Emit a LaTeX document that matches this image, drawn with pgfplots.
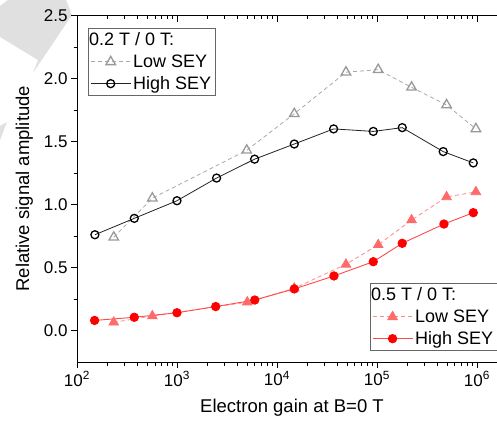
\documentclass[border=0pt]{standalone}
\usepackage{pgfplots}
\pgfplotsset{compat=1.18}
\usepackage{fontspec}
\setmainfont{Liberation Sans}
\definecolor{lowgrey}{HTML}{999999}
\definecolor{highblack}{HTML}{222222}
\definecolor{lowred}{HTML}{FF6A6A}
\definecolor{highred}{HTML}{FF0000}
\definecolor{highredline}{HTML}{FF4A4A}
\pgfplotsset{
  commonaxis/.style={
    at={(77pt,62pt)}, anchor=south west,
    width=430pt, height=346.5pt, scale only axis,
    xmin=100, xmax=2e6, ymin=-0.25, ymax=2.5,
    major tick length=6pt, minor tick length=3.5pt,
    every tick/.style={black, line width=0.6pt},
    axis line style={black, line width=0.8pt},
    tick label style={font=\fontsize{17}{20}\selectfont},
    label style={font=\fontsize{18.5}{21}\selectfont},
    legend cell align=left,
    legend image code/.code={\draw[mark repeat=2,mark phase=2,##1] plot coordinates {(0pt,0pt)(20pt,0pt)(40pt,0pt)};},
  },
}
\begin{document}
\begin{tikzpicture}
\fill[black!12] (8pt,424pt) -- (66pt,424pt) -- (72pt,409pt) -- (33pt,351pt) -- (38pt,364pt) -- (0pt,387pt) -- (0pt,418pt) -- cycle;
\fill[black!12] (0pt,298pt) -- (7pt,302pt) -- (0pt,284pt) -- cycle;
\begin{semilogxaxis}[commonaxis,
  xtick={1e2,1e3,1e4,1e5,1e6},
  xticklabels={10\textsuperscript{2},10\textsuperscript{3},10\textsuperscript{4},10\textsuperscript{5},10\textsuperscript{6}},
  ytick={0,0.5,1,1.5,2,2.5}, minor y tick num=1,
  yticklabel style={/pgf/number format/fixed, /pgf/number format/precision=1, /pgf/number format/fixed zerofill, /pgf/number format/assume math mode=true},
  tick align=outside, xtick pos=bottom, ytick pos=left,
  xlabel={Electron gain at B=0 T},
  ylabel={Relative signal amplitude},
  xlabel style={yshift=-6pt},
  ylabel style={yshift=4pt},
  legend style={at={(0.0256,0.964)}, anchor=north west, draw=black!60, fill=white, line width=0.6pt,
    font=\fontsize{18}{21}\selectfont, row sep=3.5pt, inner xsep=2pt, inner ysep=2.5pt},
]
\addlegendimage{empty legend}
\addlegendentry{\hspace{-44pt}0.2 T / 0 T:}
\addplot[color=lowgrey!85, line width=0.8pt, dash pattern=on 4pt off 3pt, mark=triangle, mark size=5.5pt,
  mark options={solid, draw=lowgrey, fill=white, line width=1.3pt}] coordinates {
  (233,0.74) (567,1.05) (4980,1.43) (14900,1.72) (49000,2.05) (103000,2.07) (222000,1.93) (497000,1.79) (977000,1.60)};
\addlegendentry{Low SEY}
\addplot[color=highblack, line width=0.8pt, mark=o, mark size=4pt,
  mark options={solid, draw=black, fill=white, line width=1.3pt}] coordinates {
  (151,0.76) (374,0.89) (1000,1.03) (2490,1.21) (5980,1.36) (14900,1.48) (36900,1.60) (91900,1.58) (179000,1.61) (460000,1.42) (920000,1.33)};
\addlegendentry{High SEY}
\end{semilogxaxis}
\begin{semilogxaxis}[commonaxis,
  axis x line*=top, hide y axis,
  xtick={1e2,1e3,1e4,1e5,1e6}, xticklabels={},
  tick align=inside,
  legend style={at={(0.681,0.228)}, anchor=north west, draw=black!60, fill=white, line width=0.6pt,
    font=\fontsize{18}{21}\selectfont, row sep=3.5pt, inner xsep=2pt, inner ysep=2.5pt},
]
\addlegendimage{empty legend}
\addlegendentry{\hspace{-44pt}0.5 T / 0 T:}
\addplot[color=lowred!80, line width=0.8pt, dash pattern=on 4pt off 3pt, mark=triangle*, mark size=5.5pt,
  mark options={solid, draw=lowred, fill=lowred}] coordinates {
  (233,0.065) (567,0.115) (5050,0.225) (14900,0.335) (49000,0.525) (103000,0.68) (222000,0.877) (497000,1.06) (977000,1.10)};
\addlegendentry{Low SEY}
\addplot[color=highredline, line width=0.9pt, mark=*, mark size=4.2pt,
  mark options={solid, draw=highred, fill=highred}] coordinates {
  (150,0.08) (374,0.105) (1000,0.141) (2440,0.19) (6000,0.242) (14900,0.33) (37150,0.433) (91900,0.546) (179000,0.692) (468000,0.845) (920000,0.935)};
\addlegendentry{High SEY}
\end{semilogxaxis}
\pgfresetboundingbox
\path[use as bounding box] (0pt,0pt) rectangle (497pt,424pt);
\end{tikzpicture}
\end{document}
